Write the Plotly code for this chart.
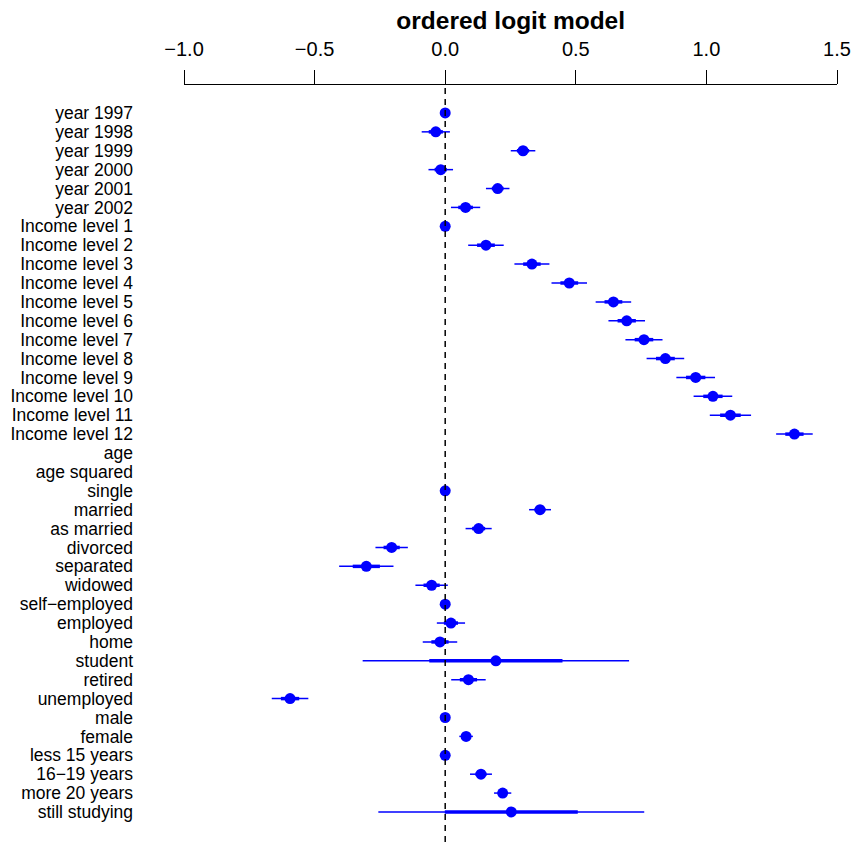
import plotly.graph_objects as go

# Coefficient estimates and standard errors of the ordered logit model
labels = [
    "year 1997", "year 1998", "year 1999", "year 2000", "year 2001", "year 2002",
    "Income level 1", "Income level 2", "Income level 3", "Income level 4",
    "Income level 5", "Income level 6", "Income level 7", "Income level 8",
    "Income level 9", "Income level 10", "Income level 11", "Income level 12",
    "age", "age squared",
    "single", "married", "as married", "divorced", "separated", "widowed",
    "self\u2212employed", "employed", "home", "student", "retired", "unemployed",
    "male", "female",
    "less 15 years", "16\u221219 years", "more 20 years", "still studying",
]
coef = [
    0.0, -0.036, 0.298, -0.017, 0.201, 0.078,
    0.0, 0.156, 0.332, 0.475, 0.644, 0.695, 0.761, 0.843, 0.959, 1.025, 1.092, 1.337,
    None, None,
    0.0, 0.363, 0.128, -0.205, -0.302, -0.052,
    0.0, 0.022, -0.020, 0.194, 0.089, -0.594,
    0.0, 0.080,
    0.0, 0.137, 0.220, 0.253,
]
se = [
    0.0, 0.027, 0.0235, 0.0235, 0.0225, 0.028,
    0.0, 0.034, 0.0335, 0.034, 0.034, 0.035, 0.0355, 0.036, 0.037, 0.037, 0.0395, 0.035,
    None, None,
    0.0, 0.021, 0.025, 0.031, 0.052, 0.031,
    0.0, 0.027, 0.033, 0.255, 0.033, 0.035,
    0.0, 0.013,
    0.0, 0.021, 0.0165, 0.2545,
]
x_ticks = [-1.0, -0.5, 0.0, 0.5, 1.0, 1.5]
x_tick_text = ["\u22121.0", "\u22120.5", "0.0", "0.5", "1.0", "1.5"]

BLUE = "#0000FF"
FONT = "Liberation Sans, Arial, Helvetica, sans-serif"

rows = list(range(len(labels)))

# +/- 2 s.e. (thin) and +/- 1 s.e. (thick) interval segments
def segments(k):
    xs, ys = [], []
    for i, (b, s) in enumerate(zip(coef, se)):
        if b is None or not s:
            continue
        xs += [b - k * s, b + k * s, None]
        ys += [i, i, None]
    return xs, ys

fig = go.Figure()
x2, y2 = segments(2)
fig.add_trace(go.Scatter(x=x2, y=y2, mode="lines",
                         line=dict(color=BLUE, width=1.5), hoverinfo="skip"))
x1, y1 = segments(1)
fig.add_trace(go.Scatter(x=x1, y=y1, mode="lines",
                         line=dict(color=BLUE, width=3.5), hoverinfo="skip"))
pts = [(b, i) for i, b in enumerate(coef) if b is not None]
fig.add_trace(go.Scatter(x=[p[0] for p in pts], y=[p[1] for p in pts], mode="markers",
                         marker=dict(color=BLUE, size=11, line=dict(width=0))))

# reference line at zero
fig.add_shape(type="line", x0=0, x1=0, y0=0, y1=1, xref="x", yref="paper",
              line=dict(color="black", width=1.5, dash="6px,5px"))

fig.update_layout(
    width=854, height=842,
    margin=dict(l=184, r=17, t=85, b=0),
    plot_bgcolor="white", paper_bgcolor="white",
    showlegend=False,
    font=dict(family=FONT, color="black"),
    title=dict(text="<b>ordered logit model</b>", x=0.598, xanchor="center",
               y=1 - 20 / 842, yanchor="middle", yref="container",
               font=dict(size=24.5, family=FONT, color="black")),
    xaxis=dict(side="top", range=[-1.0, 1.5], tickvals=x_ticks, ticktext=x_tick_text,
               ticks="outside", ticklen=14, tickwidth=1.2, tickcolor="black",
               showline=True, linecolor="black", linewidth=1.2,
               showgrid=False, zeroline=False, ticklabelstandoff=6,
               tickfont=dict(size=20, family=FONT, color="black")),
    yaxis=dict(range=[38.59, -1.48], tickvals=rows, ticktext=labels,
               ticks="", showline=False, showgrid=False, zeroline=False,
               ticklabelstandoff=50,
               tickfont=dict(size=17.5, family=FONT, color="black")),
)

fig.write_html("out.html")
